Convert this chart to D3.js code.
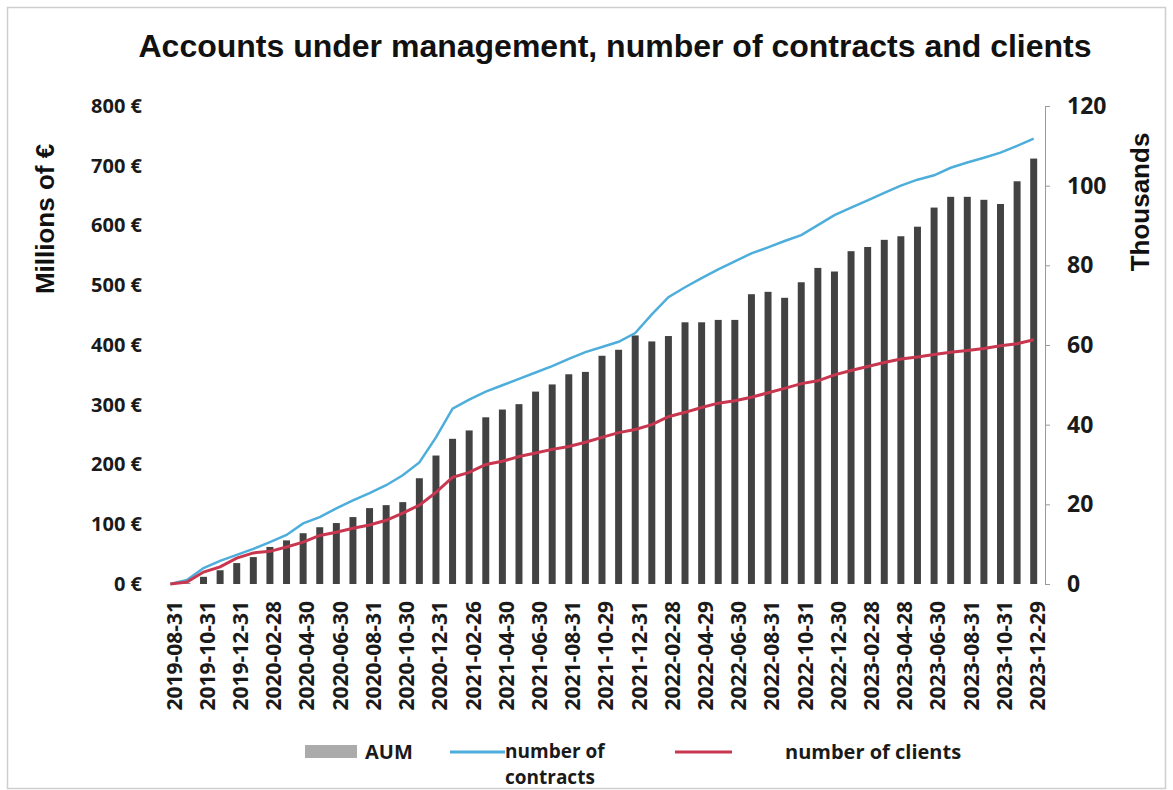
<!DOCTYPE html>
<html>
<head>
<meta charset="utf-8">
<title>AUM, contracts and clients</title>
<script src="https://cdn.jsdelivr.net/npm/d3@7"></script>
<style>
  body { margin: 0; background: #fff; }
  svg { display: block; }
  .lbl { font-family: "Open Sans", sans-serif; font-weight: bold; fill: #1a1a1a; }
  .ttl { font-family: "Liberation Sans", Arial, sans-serif; font-weight: bold; fill: #111; }
</style>
</head>
<body>
<svg id="chart" width="1173" height="790"></svg>
<script>
// month-end dates (every other one is labelled)
var dates = [
  "2019-08-31","2019-09-30","2019-10-31","2019-11-29","2019-12-31",
  "2020-01-31","2020-02-28","2020-03-31","2020-04-30","2020-05-29","2020-06-30",
  "2020-07-31","2020-08-31","2020-09-30","2020-10-30","2020-11-30","2020-12-31",
  "2021-01-29","2021-02-26","2021-03-31","2021-04-30","2021-05-31","2021-06-30",
  "2021-07-30","2021-08-31","2021-09-30","2021-10-29","2021-11-30","2021-12-31",
  "2022-01-31","2022-02-28","2022-03-31","2022-04-29","2022-05-31","2022-06-30",
  "2022-07-29","2022-08-31","2022-09-30","2022-10-31","2022-11-30","2022-12-30",
  "2023-01-31","2023-02-28","2023-03-31","2023-04-28","2023-05-31","2023-06-30",
  "2023-07-31","2023-08-31","2023-09-29","2023-10-31","2023-11-30","2023-12-29"
];

// AUM, millions of euros
var aum = [
  0, 1, 12, 23, 35, 45, 62, 73, 85, 95, 102,
  112, 127, 132, 137, 177, 215, 243, 257, 279, 292,
  301, 322, 334, 351, 355, 382, 392, 416, 406, 415,
  438, 438, 442, 442, 485, 489, 479, 505, 529, 523,
  557, 564, 576, 582, 598, 630, 648, 648, 643, 636,
  674, 712
];

// number of contracts, thousands
var contracts = [
  0, 1, 4, 5.8, 7.3, 8.8, 10.5, 12.3, 15.2, 16.8, 19,
  21, 22.8, 24.8, 27.3, 30.5, 36.8, 44, 46.3, 48.3, 49.9,
  51.5, 53.1, 54.7, 56.5, 58.2, 59.5, 60.8, 63, 67.7, 72,
  74.5, 76.8, 79, 81, 83, 84.5, 86.1, 87.6, 90.1, 92.6,
  94.5, 96.3, 98.2, 100, 101.5, 102.6, 104.5, 105.8, 107, 108.3,
  110, 111.8
];

// number of clients, thousands
var clients = [
  0, 0.5, 3, 4.3, 6.5, 7.8, 8.2, 9.3, 10.5, 12.2, 13,
  14, 14.8, 16, 17.8, 19.8, 23, 26.8, 28, 30, 30.8,
  32, 32.9, 33.8, 34.5, 35.6, 36.8, 38, 38.8, 40, 42,
  43.1, 44.3, 45.4, 46, 46.9, 48, 49.1, 50.3, 51, 52.5,
  53.6, 54.6, 55.6, 56.5, 57, 57.6, 58.2, 58.6, 59.1, 59.8,
  60.3, 61.3
];

var leftTicks = [0, 100, 200, 300, 400, 500, 600, 700, 800];
var rightTicks = [0, 20, 40, 60, 80, 100, 120];

var svg = d3.select("#chart");

// light frame round the chart
svg.append("rect")
  .attr("x", 7.5).attr("y", 7.5)
  .attr("width", 1158).attr("height", 781)
  .attr("fill", "none").attr("stroke", "#cfcfcf").attr("stroke-width", 1.5);

var x = d3.scaleBand().domain(dates).range([162, 1042]).paddingInner(0.58).paddingOuter(0.29);
var yL = d3.scaleLinear().domain([0, 800]).range([584, 106]);
var yR = d3.scaleLinear().domain([0, 120]).range([584, 106]);

// bars
svg.append("g").selectAll("rect")
  .data(dates)
  .enter().append("rect")
  .attr("x", function(d){ return x(d); })
  .attr("width", x.bandwidth())
  .attr("y", function(d, i){ return yL(aum[i]); })
  .attr("height", function(d, i){ return yL(0) - yL(aum[i]); })
  .attr("fill", "#424242");

// lines
var cx = function(i){ return x(dates[i]) + x.bandwidth() / 2; };
var lineR = d3.line().x(function(d, i){ return cx(i); }).y(function(d){ return yR(d); });

svg.append("path").datum(contracts)
  .attr("d", lineR).attr("fill", "none")
  .attr("stroke", "#4eaedb").attr("stroke-width", 2.5);

svg.append("path").datum(clients)
  .attr("d", lineR).attr("fill", "none")
  .attr("stroke", "#c8364f").attr("stroke-width", 3);

// left axis (labels only)
var axL = svg.append("g").attr("transform", "translate(142,0)")
  .call(d3.axisLeft(yL).tickValues(leftTicks).tickSize(0).tickPadding(0)
    .tickFormat(function(d){ return d + " €"; }));
axL.select(".domain").remove();
axL.selectAll("text").attr("class", "lbl").attr("font-size", 20).style("font-family", null);

// right axis
var axR = svg.append("g").attr("transform", "translate(1045,0)")
  .call(d3.axisRight(yR).tickValues(rightTicks).tickSize(5).tickPadding(17));
axR.select(".domain").attr("stroke", "#9a9a9a");
axR.selectAll("line").attr("stroke", "#9a9a9a");
axR.selectAll("text").attr("class", "lbl").attr("font-size", 23).style("font-family", null);

// x labels, every second month
svg.append("g").selectAll("text")
  .data(dates.filter(function(d, i){ return i % 2 === 0; }))
  .enter().append("text")
  .attr("class", "lbl")
  .attr("font-size", 21)
  .attr("text-anchor", "end")
  .attr("transform", function(d){ return "translate(" + (x(d) + x.bandwidth() / 2) + ",601) rotate(-90)"; })
  .attr("dy", "0.35em")
  .attr("y", 4)
  .text(function(d){ return d; });

// titles
svg.append("text").attr("class", "ttl")
  .attr("x", 615).attr("y", 57).attr("text-anchor", "middle").attr("font-size", 32)
  .text("Accounts under management, number of contracts and clients");

svg.append("text").attr("class", "ttl")
  .attr("transform", "translate(54,219) rotate(-90)").attr("text-anchor", "middle").attr("font-size", 26)
  .text("Millions of €");

svg.append("text").attr("class", "ttl")
  .attr("transform", "translate(1149,202) rotate(-90)").attr("text-anchor", "middle").attr("font-size", 26)
  .text("Thousands");

// legend
var lg = svg.append("g");
lg.append("rect").attr("x", 305).attr("y", 745).attr("width", 52).attr("height", 13).attr("fill", "#ababab");
lg.append("text").attr("class", "lbl").attr("x", 365).attr("y", 759).attr("font-size", 20).text("AUM");
lg.append("line").attr("x1", 450).attr("x2", 505).attr("y1", 752).attr("y2", 752)
  .attr("stroke", "#4eaedb").attr("stroke-width", 3);
lg.append("text").attr("class", "lbl").attr("x", 505).attr("y", 758).attr("font-size", 19).text("number of");
lg.append("text").attr("class", "lbl").attr("x", 505).attr("y", 784).attr("font-size", 19).text("contracts");
lg.append("line").attr("x1", 675).attr("x2", 732).attr("y1", 752).attr("y2", 752)
  .attr("stroke", "#c8364f").attr("stroke-width", 3);
lg.append("text").attr("class", "lbl").attr("x", 785).attr("y", 759).attr("font-size", 20).text("number of clients");
</script>
</body>
</html>
